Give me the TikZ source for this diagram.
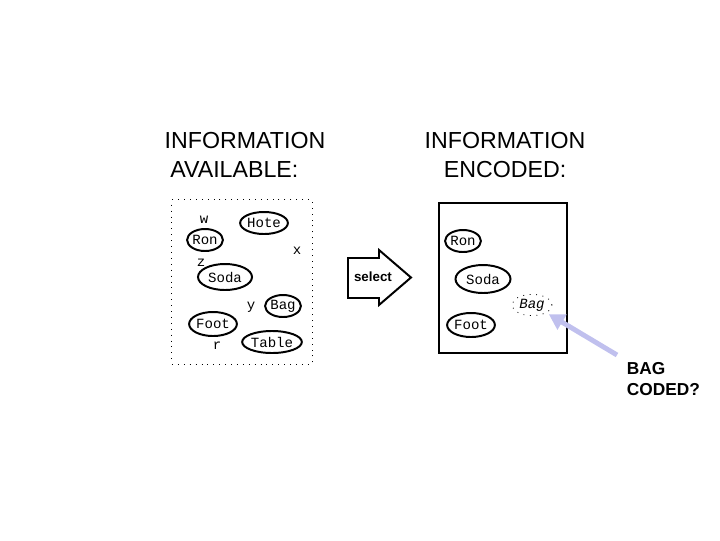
\documentclass[tikz,border=0pt]{standalone}
\usepackage{fontspec}
\setmainfont{Liberation Sans}
\setmonofont{Liberation Mono}
\usepackage{tikz}
\usetikzlibrary{shapes.geometric,arrows.meta}
\definecolor{lavender}{RGB}{192,192,238}

\begin{document}
\begin{tikzpicture}[x=0.025cm,y=-0.025cm,
    item/.style={draw, ellipse, line width=1.4pt, inner sep=0pt, minimum height=0.55cm, font=\ttfamily\fontsize{10}{12}\selectfont},
    tag/.style={font=\ttfamily\fontsize{10}{12}\selectfont},
    title/.style={align=center, font=\fontsize{16.5}{21}\selectfont}]
    \useasboundingbox (0,0) rectangle (720,540);
    \node[title, align=left] at (245,155) (avail) {INFORMATION\\\hspace{4pt}AVAILABLE:};
    \node[title] at (505,155) (enc) {INFORMATION\\ENCODED:};
    % left box
    \node[draw, dash pattern=on 0.7pt off 3.5pt, line width=0.7pt, minimum width=3.5cm, minimum height=4.1cm] at (242,282) (lbox) {};
    \node[item] at (264,223) (hote) {Hote};
    \node[item] at (205,240) (ron) {Ron};
    \node[item, minimum width=1.35cm, minimum height=0.65cm] at (225,277) (soda) {Soda};
    \node[item] at (283,306) (bag) {Bag};
    \node[item, minimum height=0.6cm] at (213,324) (foot) {Foot};
    \node[item] at (272,342) (table) {Table};
    \node[tag] at (204,220) (w) {w};
    \node[tag] at (297,251) (x) {x};
    \node[tag] at (201,263) (z) {z};
    \node[tag] at (251,307) (y) {y};
    \node[tag] at (217,346) (r) {r};
    % select arrow
    \draw[line width=1.4pt, line join=miter] (348,258) -- (379,258) -- (379,250) -- (411,277.5) -- (379,305) -- (379,298) -- (348,298) -- cycle;
    \node[font=\bfseries\fontsize{9.5}{11}\selectfont] at (373,277) (sel) {select};
    % right box
    \node[draw, line width=1.4pt, minimum width=3.2cm, minimum height=3.75cm] at (503,278) (rbox) {};
    \node[item] at (463,241) (ron2) {Ron};
    \node[item, minimum width=1.375cm, minimum height=0.7cm] at (483,279) (soda2) {Soda};
    \node[item, minimum height=0.6cm] at (471,325) (foot2) {Foot};
    \node[draw, ellipse, dash pattern=on 0.6pt off 4pt, line width=0.6pt, inner sep=1pt, font=\ttfamily\itshape\fontsize{10}{12}\selectfont] at (532,305) (bag2) {Bag};
    \node[anchor=north west, align=left, font=\bfseries\fontsize{12.3}{15}\selectfont] at (622,357) (coded) {BAG\\CODED?};
    \coordinate (tail) at (617,355);
    \path[->]
    (tail) edge [lavender, line width=3.5pt, -{Triangle[length=11pt,width=12pt]}, shorten >=2pt] (bag2.south east);
\end{tikzpicture}
\end{document}
